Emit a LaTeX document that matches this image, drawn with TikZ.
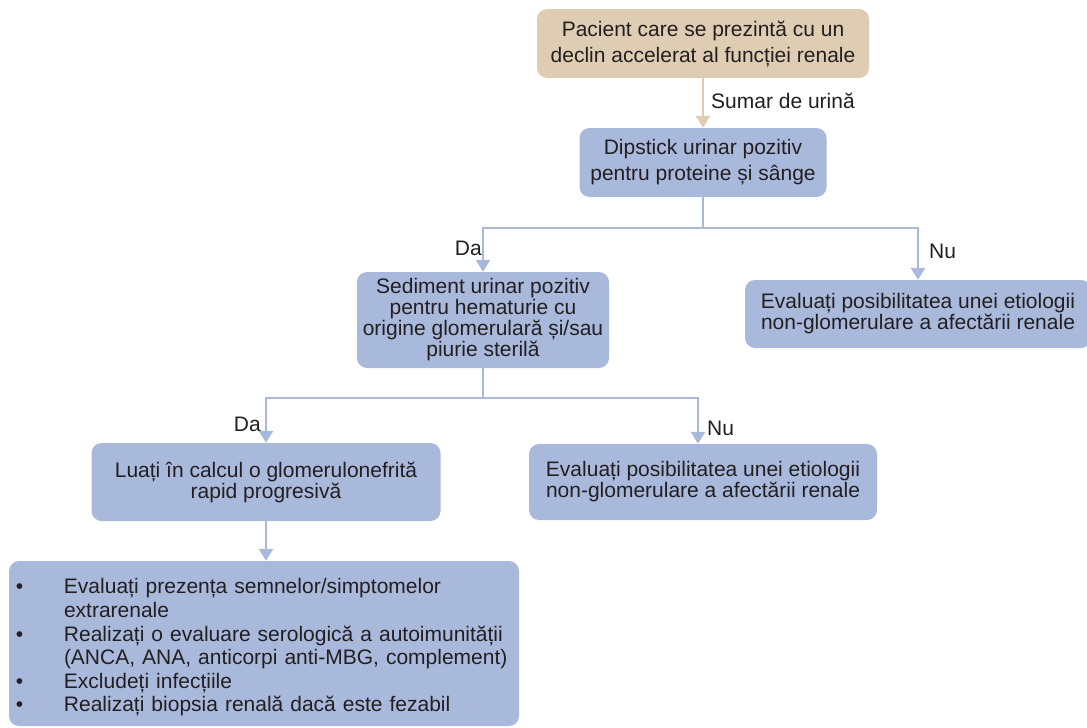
\documentclass[tikz,border=0pt]{standalone}
\usepackage{fontspec}
\setmainfont{Liberation Sans}
\usetikzlibrary{arrows.meta}
\definecolor{boxblue}{RGB}{169,185,220}
\definecolor{boxtan}{RGB}{222,205,178}
\definecolor{txtgray}{RGB}{35,31,32}

\begin{document}
\begin{tikzpicture}[x=1pt, y=-1pt, >={Triangle[width=14pt,length=12pt]},
  box/.style={rectangle, rounded corners=10pt, fill=boxblue, align=center, text=txtgray,
    inner sep=0pt, font=\fontsize{21}{21}\selectfont},
  wide/.style={font=\fontsize{21}{26}\selectfont},
  lbl/.style={text=txtgray, inner sep=0pt, font=\fontsize{21}{24}\selectfont},
  link/.style={line width=2.8pt, draw=boxblue}]
  \useasboundingbox (0,0) rectangle (1087,728);
  % boxes
  \node[box, wide, fill=boxtan, minimum width=332pt, minimum height=69pt] (start) at (703,43.5)
    {Pacient care se prezintă cu un\\declin accelerat al funcției renale};
  \node[box, wide, minimum width=247pt, minimum height=69pt] (dip) at (703,162.5)
    {Dipstick urinar pozitiv\\pentru proteine și sânge};
  \node[box, minimum width=252pt, minimum height=96pt] (sed) at (483,320)
    {Sediment urinar pozitiv\\pentru hematurie cu\\origine glomerulară și/sau\\piurie sterilă};
  \node[box, minimum width=346pt, minimum height=68pt] (nonglom1) at (918,314)
    {Evaluați posibilitatea unei etiologii\\non-glomerulare a afectării renale};
  \node[box, minimum width=349pt, minimum height=78pt] (rpgn) at (266,482)
    {Luați în calcul o glomerulonefrită\\rapid progresivă};
  \node[box, minimum width=348pt, minimum height=76pt] (nonglom2) at (703,482)
    {Evaluați posibilitatea unei etiologii\\non-glomerulare a afectării renale};
  \node[box, align=left, text width=510pt, minimum height=165pt, font=\fontsize{21}{23.6}\selectfont]
    (list) at (264,643.5) {%
    \begin{tabular}{@{}p{55pt}@{}l@{}}
      \rule{0pt}{26pt}\hspace*{7pt}\textbullet & Evaluați prezența semnelor/simptomelor\\
        & extrarenale\\
      \hspace*{7pt}\textbullet & Realizați o evaluare serologică a autoimunității\\
        & (ANCA, ANA, anticorpi anti-MBG, complement)\\
      \hspace*{7pt}\textbullet & Excludeți infecțiile\\
      \hspace*{7pt}\textbullet & Realizați biopsia renală dacă este fezabil
    \end{tabular}};
  % connectors
  \coordinate (split1) at (703,228);
  \coordinate (split2) at (483,398);
  \draw[link, draw=boxtan, ->] (start) -- (dip);
  \node[lbl, anchor=west] (sumar) at (711,101) {Sumar de urină};
  \draw[link] (dip) -- (split1);
  \draw[link, ->] (split1) -| (sed.north);
  \draw[link, ->] (split1) -| (nonglom1.north);
  \node[lbl, anchor=east] (da1) at (482,248) {Da};
  \node[lbl, anchor=west] (nu1) at (929,251) {Nu};
  \draw[link] (sed) -- (split2);
  \draw[link, ->] (split2) -| (rpgn.north);
  \draw[link, ->] (split2) -| ([xshift=-5pt]nonglom2.north);
  \node[lbl, anchor=east] (da2) at (261,424) {Da};
  \node[lbl, anchor=west] (nu2) at (707,428) {Nu};
  \draw[link, ->] (rpgn.south) -- (rpgn.south |- list.north);
\end{tikzpicture}
\end{document}
